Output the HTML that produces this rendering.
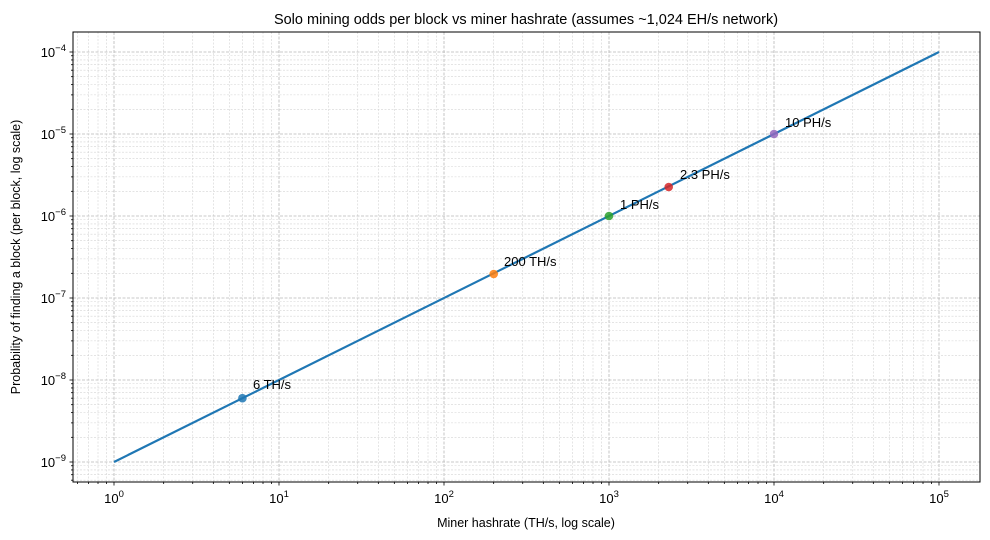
<!DOCTYPE html>
<html><head><meta charset="utf-8"><style>
body{margin:0;background:#fff;}
svg{display:block;font-family:"Liberation Sans","DejaVu Sans",sans-serif;}
</style></head><body>
<svg id="s" width="990" height="540" viewBox="0 0 990 540">
<rect width="990" height="540" fill="#fff"/>
<g id="grid"></g>
<g id="ticks" stroke="#000" stroke-width="0.8"></g>
<polyline points="114,462 939,52" fill="none" stroke="#1f77b4" stroke-width="2.2"/>
<g opacity="0.85">
<circle cx="242.4" cy="398.2" r="4.3" fill="#1f77b4"/>
<circle cx="493.7" cy="274" r="4.3" fill="#ff7f0e"/>
<circle cx="609" cy="216" r="4.3" fill="#2ca02c"/>
<circle cx="668.7" cy="187" r="4.3" fill="#d62728"/>
<circle cx="774" cy="134" r="4.3" fill="#9467bd"/>
</g>
<g font-size="13" fill="#000">
<text x="253" y="389">6 TH/s</text>
<text x="504" y="266">200 TH/s</text>
<text x="620" y="209">1 PH/s</text>
<text x="680" y="179">2.3 PH/s</text>
<text x="785" y="127">10 PH/s</text>
</g>
<rect x="73" y="32" width="907" height="450" fill="none" stroke="#000" stroke-width="1"/>
<g font-size="13" text-anchor="middle" fill="#000">
<text x="114" y="503">10<tspan dy="-6" font-size="9.5">0</tspan></text>
<text x="279" y="503">10<tspan dy="-6" font-size="9.5">1</tspan></text>
<text x="444" y="503">10<tspan dy="-6" font-size="9.5">2</tspan></text>
<text x="609" y="503">10<tspan dy="-6" font-size="9.5">3</tspan></text>
<text x="774" y="503">10<tspan dy="-6" font-size="9.5">4</tspan></text>
<text x="939" y="503">10<tspan dy="-6" font-size="9.5">5</tspan></text>
</g>
<g font-size="13" text-anchor="end" fill="#000">
<text x="66" y="467">10<tspan dy="-6" font-size="9.5">−9</tspan></text>
<text x="66" y="385">10<tspan dy="-6" font-size="9.5">−8</tspan></text>
<text x="66" y="303">10<tspan dy="-6" font-size="9.5">−7</tspan></text>
<text x="66" y="221">10<tspan dy="-6" font-size="9.5">−6</tspan></text>
<text x="66" y="139">10<tspan dy="-6" font-size="9.5">−5</tspan></text>
<text x="66" y="57">10<tspan dy="-6" font-size="9.5">−4</tspan></text>
</g>
<text x="526" y="527" font-size="12.5" text-anchor="middle">Miner hashrate (TH/s, log scale)</text>
<text transform="translate(20,257) rotate(-90)" font-size="12.5" text-anchor="middle">Probability of finding a block (per block, log scale)</text>
<text x="526" y="24" font-size="14.5" text-anchor="middle">Solo mining odds per block vs miner hashrate (assumes ~1,024 EH/s network)</text>
</svg>
<script>
var g=document.getElementById('grid'),t=document.getElementById('ticks'),ns='http://www.w3.org/2000/svg';
function L(p,x1,y1,x2,y2,c,w,d){var l=document.createElementNS(ns,'line');l.setAttribute('x1',x1);l.setAttribute('y1',y1);l.setAttribute('x2',x2);l.setAttribute('y2',y2);if(c)l.setAttribute('stroke',c);l.setAttribute('stroke-width',w);if(d)l.setAttribute('stroke-dasharray',d);p.appendChild(l);}
for(var e=-1;e<=5;e++)for(var m=1;m<10;m++){var x=114+165*(e+Math.log10(m));if(x<73||x>980)continue;
 L(g,x,32,x,482,m==1?'#b8b8b8':'#d4d4d4',m==1?0.8:0.6,m==1?'3,1.5':'2,1.5');L(t,x,482,x,482+(m==1?3.5:2),null,0.8);}
for(var e=-10;e<=-4;e++)for(var m=1;m<10;m++){var y=462-82*(e+9+Math.log10(m));if(y<32||y>482)continue;
 L(g,73,y,980,y,m==1?'#b8b8b8':'#d4d4d4',m==1?0.8:0.6,m==1?'3,1.5':'2,1.5');L(t,73-(m==1?3.5:2),y,73,y,null,0.8);}
</script>
</body></html>
